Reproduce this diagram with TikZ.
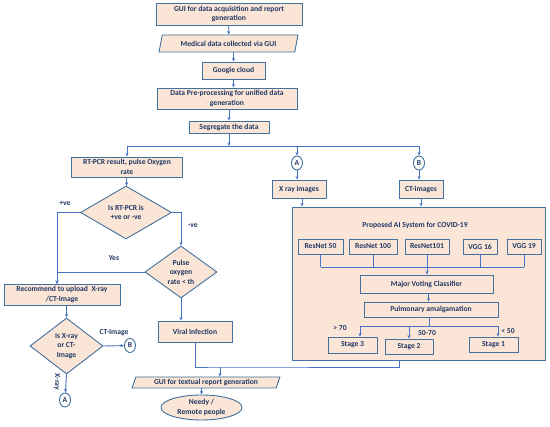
\documentclass[tikz,border=0pt]{standalone}
\usepackage{fontspec}
\setmainfont{Carlito}
\usetikzlibrary{shapes.geometric,arrows.meta}
\definecolor{peach}{HTML}{FBE5D6}
\definecolor{boxline}{HTML}{41719C}
\definecolor{flowline}{HTML}{4472C4}
\definecolor{navy}{HTML}{1F3864}
\begin{document}
\begin{tikzpicture}[x=1pt, y=-1pt,
		>={Stealth[length=3.5pt,width=3pt]},
		every node/.style={text=navy, font=\bfseries\fontsize{7.6}{9.4}\selectfont},
		procbox/.style={draw=boxline, fill=peach, line width=0.9pt, align=center, inner sep=1pt},
		iobox/.style={procbox, trapezium, trapezium left angle=72, trapezium right angle=108, trapezium stretches=true},
		decbox/.style={procbox, diamond, inner sep=0pt},
		conn/.style={draw=boxline, fill=white, line width=0.9pt, ellipse, inner sep=0pt, minimum width=11pt, minimum height=14pt},
		flow/.style={draw=flowline, line width=0.9pt}]
	\useasboundingbox (0,0) rectangle (550,427);

		% Upper chain of steps
			\node[procbox, minimum width=146, minimum height=22] (gui) at (229,14) {GUI for data acquisition and report\\generation};
			\node[iobox, minimum width=139, minimum height=17] (meddata) at (228.5,43.5) {Medical data collected via GUI};
			\node[procbox, minimum width=63, minimum height=17] (cloud) at (233.5,70.5) {Google cloud};
			\node[procbox, minimum width=140, minimum height=21] (prep) at (227,98.5) {Data Pre-processing for unified data\\generation};
			\node[procbox, minimum width=80, minimum height=12] (segr) at (229,127) {Segregate the data};
			\coordinate (bus) at (229,146);

			\draw[flow,->] (gui) -- (meddata);
			\draw[flow,->] (meddata) -- (cloud.north |- meddata.south) -- (cloud);
			\draw[flow,->] (cloud) -- (cloud.south |- prep.north);
			\draw[flow,->] (prep.south -| segr) -- (segr);
			\draw[flow,->] (segr) -- (bus);

		% Left branch, the RT-PCR check
			\node[procbox, minimum width=111, minimum height=20] (rtpcr) at (127,167) {RT-PCR result, pulse Oxygen\\rate};
			\node[decbox, minimum width=91, minimum height=53] (pcrtest) at (126,212.5) {Is RT-PCR is\\+ve or -ve};
			\node[decbox, minimum width=72, minimum height=52] (oxtest) at (181,272) {Pulse\\oxygen\\rate < th};
			\node[procbox, minimum width=116, minimum height=21] (recom) at (62,294.5) {Recommend to upload\ \ X-ray\\/CT-Image};
			\node[decbox, minimum width=73, minimum height=56] (imgtest) at (66.5,346) {Is X-ray\\or CT-\\Image};
			\node[procbox, minimum width=74, minimum height=21] (viral) at (195,331.5) {Viral Infection};
			\node[conn] (conBl) at (130,345.5) {B};
			\node[conn] (conAl) at (65,400) {A};
			\coordinate (lcol) at (57,284);

			\draw[flow,->] (bus) -| (rtpcr.north);
			\draw[flow,->] (rtpcr) -- (pcrtest);
			\draw[flow,->] (pcrtest.west) -| (lcol);
			\draw[flow,->] (pcrtest.east) -| (oxtest.north);
			\draw[flow,->] (oxtest.west) -| (lcol);
			\draw[flow,->] (oxtest.south) -- (oxtest.south |- viral.north);
			\draw[flow,->] (recom.south -| imgtest) -- (imgtest);
			\draw[flow,->] (imgtest.east) -- (conBl);
			\draw[flow,->] (imgtest.south) -- (conAl);
			\node at (65,203) {+ve};
			\node at (193,226) {-ve};
			\node at (114,258) {Yes};
			\node at (114,333) {CT-Image};
			\node[rotate=-90] at (57,382) {X-ray};

		% Right branch, the images and the AI system
			\node[conn] (conAr) at (297,163) {A};
			\node[conn] (conBr) at (419,163) {B};
			\node[procbox, minimum width=54, minimum height=18] (xray) at (299,189) {X ray images};
			\node[procbox, minimum width=44, minimum height=18] (ctimg) at (421,189) {CT-images};
			\node[procbox, minimum width=253, minimum height=153] (aisys) at (418.5,283.5) {};
			\node at (415,225) {Proposed AI System for COVID-19};

			\draw[flow,->] (bus) -| (conAr);
			\draw[flow,->] (bus) -| (conBr);
			\draw[flow,->] (conAr) -- (conAr |- xray.north);
			\draw[flow,->] (conBr) -- (conBr |- ctimg.north);
			\draw[flow,->] ([xshift=3pt]xray.south) -- ([xshift=3pt]xray.south |- aisys.north);
			\draw[flow,->] (ctimg.south) -- (ctimg.south |- aisys.north);

			\node[procbox, minimum width=45, minimum height=15] (res50) at (320.5,246.5) {ResNet 50};
			\node[procbox, minimum width=48, minimum height=15] (res100) at (373,246.5) {ResNet 100};
			\node[procbox, minimum width=44, minimum height=15] (res101) at (427,246.5) {ResNet101};
			\node[procbox, minimum width=34, minimum height=15] (vgg16) at (480,246.5) {VGG 16};
			\node[procbox, minimum width=34, minimum height=15] (vgg19) at (524,246.5) {VGG 19};
			\node[procbox, minimum width=133, minimum height=18] (vote) at (426.5,284) {Major Voting Classifier};
			\node[procbox, minimum width=134, minimum height=15] (pulm) at (431,309.5) {Pulmonary amalgamation};
			\node[procbox, minimum width=49, minimum height=16] (st3) at (352.5,345) {Stage 3};
			\node[procbox, minimum width=48, minimum height=15] (st2) at (409,346.5) {Stage 2};
			\node[procbox, minimum width=49, minimum height=15] (st1) at (493.5,344.5) {Stage 1};
			\coordinate (vbus) at (427,267);
			\coordinate (sbus) at (429,326);

			\foreach \net in {res50,res100,res101,vgg16,vgg19}
				\draw[flow] (\net.south) -- (\net.south |- vbus);
			\draw[flow] (res50.south |- vbus) -- (vgg19.south |- vbus);
			\draw[flow,->] (vbus) -- (vbus |- vote.north);
			\draw[flow,->] ([xshift=2pt]vote.south) -- ([xshift=2pt]vote.south |- pulm.north);
			\draw[flow] (pulm.south -| sbus) -- (sbus);
			\draw[flow,->] (sbus) -| ([xshift=7.5pt]st3.north);
			\draw[flow,->] (sbus) -| (st2.north);
			\draw[flow,->] (sbus) -| ([xshift=4.5pt]st1.north);
			\node at (340,328) {> 70};
			\node at (427,333) {50-70};
			\node at (508,331) {< 50};

		% Joining both branches into the report
			\node[iobox, minimum width=148, minimum height=11] (guitxt) at (206,382.5) {GUI for textual report generation};
			\node[procbox, ellipse, minimum width=81, minimum height=25, inner sep=0pt] (needy) at (201.5,407.5) {Needy /\\Remote people};
			\coordinate (mrg) at (220,367);

			\draw[flow] (viral.south) |- (mrg) -| ([xshift=-19.5pt]aisys.south);
			\draw[flow,->] (mrg) -- (mrg |- guitxt.north);
			\draw[flow,->] (guitxt.south -| needy) -- (needy);
	\end{tikzpicture}
\end{document}
